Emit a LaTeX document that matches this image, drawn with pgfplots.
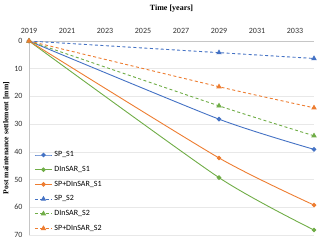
\documentclass[border=0pt]{standalone}
\usepackage{fontspec}
\setmainfont{Carlito}
\newfontfamily\tnr{Liberation Serif}
\usepackage{pgfplots}
\pgfplotsset{compat=1.18}
\definecolor{cblue}{HTML}{4472C4}
\definecolor{cgreen}{HTML}{70AD47}
\definecolor{corange}{HTML}{ED7D31}
\begin{document}
\begin{tikzpicture}
\begin{axis}[name=ax, at={(0,0)}, anchor=north west,
 scale only axis, width=285pt, height=194pt,
 xmin=2019, xmax=2034, ymin=0, ymax=70, y dir=reverse,
 xtick={2019,2021,...,2033}, ytick={0,10,...,70},
 axis x line*=top, axis y line*=left,
 axis line style={draw=gray!45, line width=0.6pt, -},
 major tick length=0pt,
 ymajorgrids, grid style={gray!18, line width=0.5pt},
 ticklabel style={font=\fontsize{8}{9}\selectfont, text=black!80},
 /pgf/number format/assume math mode=true,
 /pgf/number format/1000 sep={},
 xticklabel style={yshift=4pt},
 yticklabel style={xshift=-3pt},
 title={\tnr\bfseries Time [years]},
 title style={font=\fontsize{8}{9}\selectfont, at={(0.5,1)}, yshift=19pt, anchor=south},
 ylabel={\tnr\bfseries Post maintenance settlement [mm]},
 ylabel style={font=\fontsize{7.6}{9}\selectfont, yshift=-2pt},
 legend style={draw=none, fill=none, at={(0.015,0.0)}, anchor=south west,
   font=\fontsize{8}{9}\selectfont, row sep=4pt, inner sep=1pt},
 legend cell align=left,
 every axis plot/.append style={line width=0.9pt, smooth, tension=0.4},
]
\addplot[cblue, mark=*, mark size=1.8pt] coordinates {(2019,0) (2029,28.2) (2034,39.1)};
\addlegendentry{SP\_S1}
\addplot[cgreen, mark=*, mark size=1.8pt] coordinates {(2019,0) (2029,49.3) (2034,68.2)};
\addlegendentry{DInSAR\_S1}
\addplot[corange, mark=*, mark size=1.8pt] coordinates {(2019,0) (2029,42.2) (2034,59.2)};
\addlegendentry{SP+DInSAR\_S1}
\addplot[cblue, dash pattern=on 3pt off 2.5pt, mark=triangle*, mark size=2.3pt, mark options={solid}] coordinates {(2019,0) (2029,4.2) (2034,6.3)};
\addlegendentry{SP\_S2}
\addplot[cgreen, dash pattern=on 3pt off 2.5pt, mark=triangle*, mark size=2.3pt, mark options={solid}] coordinates {(2019,0) (2029,23.4) (2034,34.2)};
\addlegendentry{DInSAR\_S2}
\addplot[corange, dash pattern=on 3pt off 2.5pt, mark=triangle*, mark size=2.3pt, mark options={solid}] coordinates {(2019,0) (2029,16.5) (2034,24.1)};
\addlegendentry{SP+DInSAR\_S2}
\end{axis}
\pgfresetboundingbox
\path[use as bounding box] ([xshift=-29pt,yshift=-6pt]ax.south west) rectangle ([xshift=6pt,yshift=41pt]ax.north east);
\end{tikzpicture}
\end{document}
